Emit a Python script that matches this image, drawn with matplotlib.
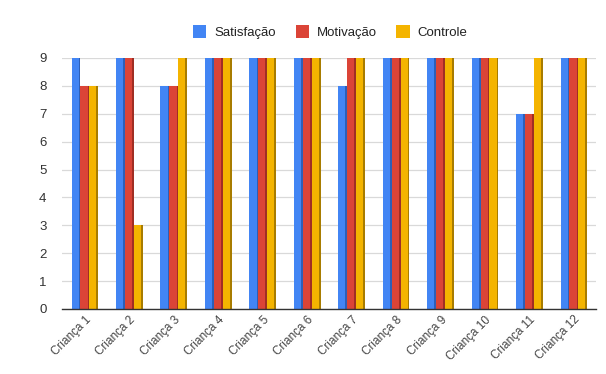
import numpy as np
import matplotlib
matplotlib.use('Agg')
import matplotlib.pyplot as plt
from matplotlib.patches import Patch

plt.rcParams['font.family'] = ['Liberation Sans', 'DejaVu Sans']

categories = [f'Criança {i}' for i in range(1, 13)]
satisfacao = [9, 9, 8, 9, 9, 9, 8, 9, 9, 9, 7, 9]
motivacao = [8, 9, 8, 9, 9, 9, 9, 9, 9, 9, 7, 9]
controle = [8, 3, 9, 9, 9, 9, 9, 9, 9, 9, 9, 9]

series = [
    ('Satisfação', satisfacao, '#4285f4', '#2c5fb8'),
    ('Motivação', motivacao, '#db4437', '#a02e24'),
    ('Controle', controle, '#f4b400', '#a87c00'),
]

fig = plt.figure(figsize=(6.06, 3.74), dpi=100)
ax = fig.add_axes([0.102, 0.174, 0.881, 0.671])

x = np.arange(len(categories))
w = 0.2
edge = 0.04
for k, (name, vals, col, dark) in enumerate(series):
    pos = x + (k - 1) * w
    ax.bar(pos, vals, width=w, color=col, zorder=3)
    # darker sliver on the right side to mimic the 3d look
    ax.bar(pos + w / 2 - edge / 2, vals, width=edge, color=dark, zorder=4)

ax.set_xlim(-0.52, 11.49)
ax.set_ylim(0, 9)
ax.set_yticks(range(0, 10))
ax.grid(axis='y', color='#d9d9d9', linewidth=0.9, zorder=0)
for s in ['top', 'right', 'left']:
    ax.spines[s].set_visible(False)
ax.spines['bottom'].set_color('#333333')
ax.spines['bottom'].set_linewidth(1.0)
ax.spines['bottom'].set_zorder(5)
ax.tick_params(axis='x', length=0, labelsize=8.5, colors='#444444')
ax.tick_params(axis='y', length=0, labelsize=9.5, colors='#333333', pad=11)
ax.set_xticks(x)
ax.set_xticklabels(categories, rotation=45, ha='right', rotation_mode='anchor')

handles = [Patch(facecolor=c, label=n) for n, _, c, _ in series]
fig.legend(handles=handles, loc='center', bbox_to_anchor=(0.545, 0.915), ncol=3,
           frameon=False, fontsize=9.5, handlelength=1.0, handleheight=1.1,
           columnspacing=1.5, handletextpad=0.6, labelcolor='#222222')

fig.savefig('out.png', dpi=100)
